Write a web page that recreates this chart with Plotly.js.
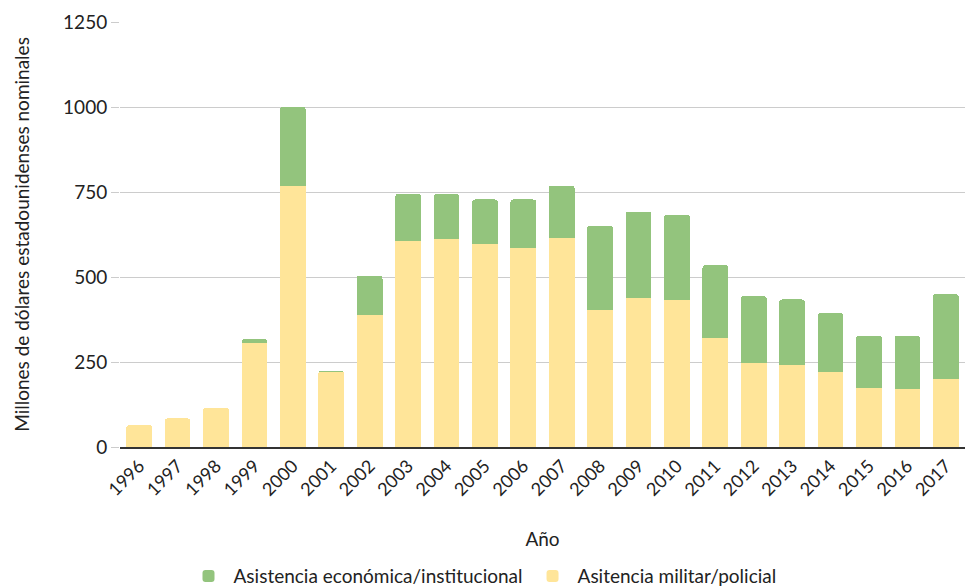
<!DOCTYPE html>
<html>
<head>
<meta charset="utf-8">
<script src="https://cdn.plot.ly/plotly-3.0.1.min.js"></script>
<style>html,body{margin:0;padding:0;background:#fff}#chart{width:965px;height:586px}</style>
</head>
<body>
<div id="chart"></div>
<script>
const years = ["1996","1997","1998","1999","2000","2001","2002","2003","2004","2005","2006","2007","2008","2009","2010","2011","2012","2013","2014","2015","2016","2017"];
const militar = [64,84,115,307,768,221,388,606,612,596,586,616,404,439,433,321,246,241,220,175,170,199];
const economica = [0,0,0,10,232,4,116,138,132,132,142,153,247,253,250,214,198,193,174,152,157,251];
const yTicks = [0,250,500,750,1000,1250];

const fontFam = "Lato, 'Open Sans', sans-serif";
const traces = [
  {type:'bar', name:'Asitencia militar/policial', x:years, y:militar,
   marker:{color:'#ffe599'}, hoverinfo:'x+y'},
  {type:'bar', name:'Asistencia económica/institucional', x:years, y:economica,
   marker:{color:'#93c47d'}, hoverinfo:'x+y'}
];
const layout = {
  width:965, height:586,
  margin:{l:120, r:0, t:22, b:139},
  barmode:'stack', bargap:0.33, barcornerradius:3,
  paper_bgcolor:'#fff', plot_bgcolor:'#fff',
  font:{family:fontFam, size:19, color:'#222'},
  showlegend:true,
  legend:{orientation:'h', traceorder:'reversed', xref:'container', yref:'container',
          x:0.5, xanchor:'center', y:0.017, yanchor:'middle',
          font:{size:19, color:'#222'}, itemwidth:40},
  xaxis:{type:'category', tickangle:-45, showgrid:false, showline:true, linecolor:'#333', linewidth:1.5,
         layer:'below traces', ticks:'', tickfont:{size:18},
         title:{text:'Año', standoff:34, font:{size:19}}},
  yaxis:{range:[0,1250], tickvals:yTicks, ticktext:yTicks.map(String), showgrid:true, gridcolor:'#ccc', gridwidth:1,
         zeroline:false, ticks:'outside', ticklen:8, tickcolor:'#ccc', tickfont:{size:19},
         title:{text:'Millones de dólares estadounidenses nominales', standoff:28, font:{size:19}}}
};
Plotly.newPlot('chart', traces, layout, {displayModeBar:false, staticPlot:true});
</script>
</body>
</html>
